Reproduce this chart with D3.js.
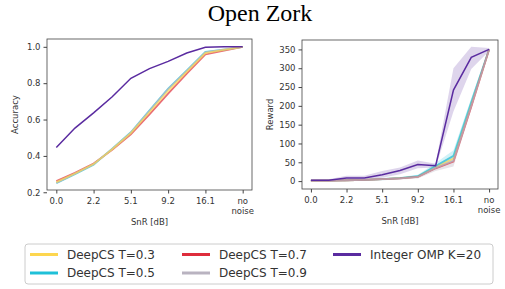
<!DOCTYPE html>
<html>
<head>
<meta charset="utf-8">
<script src="https://cdn.jsdelivr.net/npm/d3@7"></script>
<style>
  body { margin: 0; background: #fff; }
  text { font-family: "DejaVu Sans", sans-serif; fill: #333; }
</style>
</head>
<body>
<svg id="chart" width="505" height="289"></svg>
<script>
// x positions are steps 0..10, only every other one is labelled
const steps = [0, 1, 2, 3, 4, 5, 6, 7, 8, 9, 10];
const tickSteps = [0, 2, 4, 6, 8, 10];
const tickLabels = ["0.0", "2.2", "5.1", "9.2", "16.1", "no noise"];

const seriesNames = ["DeepCS T=0.3", "DeepCS T=0.5", "DeepCS T=0.7", "DeepCS T=0.9", "Integer OMP K=20"];
const colors = ["#fdd64f", "#1fc0d8", "#de2d3c", "#b9b3c0", "#5a2ba0"];

// accuracy (left)
const accT03 = [0.256, 0.303, 0.355, 0.437, 0.525, 0.64, 0.757, 0.862, 0.966, 0.983, 1.0];
const accT05 = [0.25, 0.30, 0.352, 0.44, 0.53, 0.65, 0.77, 0.87, 0.972, 0.985, 1.0];
const accT07 = [0.262, 0.307, 0.358, 0.433, 0.518, 0.628, 0.743, 0.852, 0.958, 0.979, 1.0];
const accT09 = [0.252, 0.302, 0.354, 0.438, 0.528, 0.648, 0.768, 0.868, 0.97, 0.986, 1.0];
const accOmp = [0.446, 0.553, 0.637, 0.725, 0.827, 0.88, 0.92, 0.966, 0.997, 1.0, 1.0];

// reward (right)
const rewT03 = [1, 1, 2, 3, 5, 8, 12, 37, 60, 205, 350];
const rewT05 = [1, 1, 2, 3, 5, 8, 13, 40, 67, 210, 350];
const rewT07 = [1, 1, 2, 3, 5, 7, 11, 34, 52, 198, 350];
const rewT09 = [1, 1, 2, 3, 5, 7, 11, 35, 54, 200, 350];
const rewOmp = [2, 2, 8, 8, 17, 28, 44, 41, 242, 329, 350];
const rewOmpLo = [0, 0, 3, 4, 9, 18, 34, 36, 185, 298, 346];
const rewOmpHi = [4, 5, 14, 14, 27, 36, 55, 46, 300, 357, 354];
const rewDcsSpread = [1, 1, 2, 2, 3, 3, 4, 8, 15, 10, 3];

const accTicks = [0.2, 0.4, 0.6, 0.8, 1.0];
const rewTicks = [0, 50, 100, 150, 200, 250, 300, 350];

const svg = d3.select("#chart");

svg.append("text")
    .attr("x", 260)
    .attr("y", 21)
    .attr("text-anchor", "middle")
    .style("font-family", "'Liberation Serif', 'Times New Roman', serif")
    .style("font-size", "24px")
    .style("fill", "#000")
    .text("Open Zork");

function panel(box, yDomain, yTicks, yFmt, yLabel, lines, order, bands) {
    let g = svg.append("g");
    let x = d3.scaleLinear().domain([-0.5, 10.5]).range([box.left, box.right]);
    let y = d3.scaleLinear().domain(yDomain).range([box.bottom, box.top]);

    // shaded bands
    let area = d3.area()
        .x((d, i) => x(steps[i]))
        .y0(d => y(d[0]))
        .y1(d => y(d[1]));
    bands.forEach(b => {
        g.append("path")
            .datum(b.lo.map((v, i) => [v, b.hi[i]]))
            .attr("d", area)
            .attr("fill", b.color)
            .attr("opacity", b.opacity);
    });

    let line = d3.line()
        .x((d, i) => x(steps[i]))
        .y(d => y(d));
    order.forEach(k => {
        g.append("path")
            .datum(lines[k])
            .attr("d", line)
            .attr("fill", "none")
            .attr("stroke", colors[k])
            .attr("stroke-width", k < 4 ? 1.8 : 1.5)
            .attr("opacity", k < 4 ? 0.7 : 1);
    });

    // frame
    g.append("rect")
        .attr("x", box.left).attr("y", box.top)
        .attr("width", box.right - box.left)
        .attr("height", box.bottom - box.top)
        .attr("fill", "none")
        .attr("stroke", "#444")
        .attr("stroke-width", 0.8);

    let xAxis = g.append("g")
        .attr("transform", `translate(0,${box.bottom})`)
        .call(d3.axisBottom(x).tickValues(tickSteps).tickSize(3.5).tickFormat(""));
    xAxis.select(".domain").remove();
    xAxis.selectAll("line").attr("stroke", "#444");
    tickSteps.forEach((t, i) => {
        let parts = tickLabels[i].split(" ");
        let txt = g.append("text")
            .attr("x", x(t))
            .attr("y", box.bottom + 14)
            .attr("text-anchor", "middle")
            .style("font-size", "8.5px");
        parts.forEach((p, j) => {
            txt.append("tspan").attr("x", x(t)).attr("dy", j == 0 ? 0 : 10).text(p);
        });
    });

    let yAxis = g.append("g")
        .attr("transform", `translate(${box.left},0)`)
        .call(d3.axisLeft(y).tickValues(yTicks).tickSize(3.5).tickPadding(3).tickFormat(yFmt));
    yAxis.select(".domain").remove();
    yAxis.selectAll("line").attr("stroke", "#444");
    yAxis.selectAll("text").style("font-size", "8.5px").style("font-family", "'DejaVu Sans', sans-serif").attr("fill", "#333");

    g.append("text")
        .attr("x", (box.left + box.right) / 2)
        .attr("y", box.bottom + 35)
        .attr("text-anchor", "middle")
        .style("font-size", "8.5px")
        .text("SnR [dB]");

    g.append("text")
        .attr("transform", `translate(${box.yLabelX},${(box.top + box.bottom) / 2}) rotate(-90)`)
        .attr("text-anchor", "middle")
        .style("font-size", "8.5px")
        .text(yLabel);
}

panel({left: 47, right: 252, top: 39, bottom: 190, yLabelX: 18},
    [0.2125, 1.043], accTicks, d3.format(".1f"), "Accuracy",
    [accT03, accT05, accT07, accT09, accOmp], [2, 1, 3, 0, 4], []);

panel({left: 302, right: 498, top: 40, bottom: 189, yLabelX: 273},
    [-21, 375], rewTicks, d3.format("d"), "Reward",
    [rewT03, rewT05, rewT07, rewT09, rewOmp], [0, 1, 2, 3, 4],
    [
        {lo: rewT09.map((v, i) => v - rewDcsSpread[i]), hi: rewT09.map((v, i) => v + rewDcsSpread[i]), color: colors[3], opacity: 0.35},
        {lo: rewT05.map((v, i) => v - rewDcsSpread[i]), hi: rewT05.map((v, i) => v + rewDcsSpread[i]), color: colors[1], opacity: 0.2},
        {lo: rewOmpLo, hi: rewOmpHi, color: colors[4], opacity: 0.2}
    ]);

// legend
let leg = svg.append("g");
leg.append("rect")
    .attr("x", 25).attr("y", 244)
    .attr("width", 468).attr("height", 40)
    .attr("rx", 3)
    .attr("fill", "#fff")
    .attr("stroke", "#ccc");
const legCols = [30, 182, 333];
const legRows = [254.5, 273];
const legOrder = [[0, 0], [0, 1], [1, 0], [1, 1], [2, 0]];
seriesNames.forEach((name, k) => {
    let cx = legCols[legOrder[k][0]], cy = legRows[legOrder[k][1]];
    leg.append("line")
        .attr("x1", cx).attr("x2", cx + 28)
        .attr("y1", cy).attr("y2", cy)
        .attr("stroke", colors[k])
        .attr("stroke-width", 3);
    leg.append("text")
        .attr("x", cx + 37)
        .attr("y", cy + 4.3)
        .style("font-size", "12px")
        .text(name);
});
</script>
</body>
</html>
